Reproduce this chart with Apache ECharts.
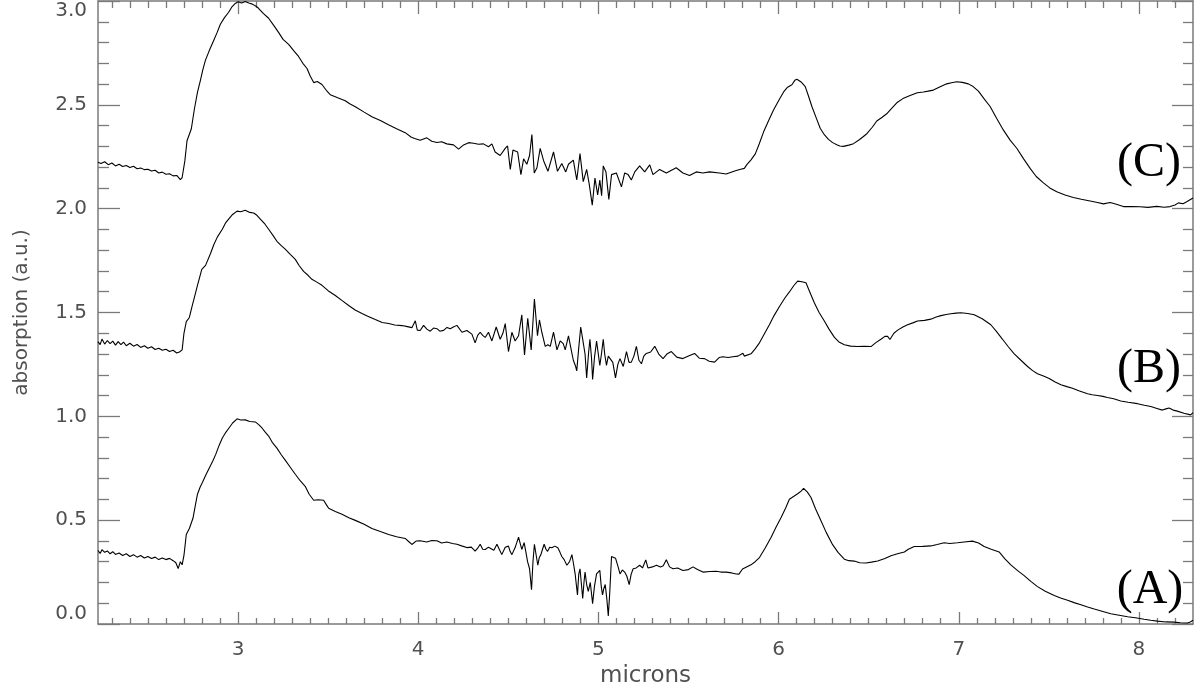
<!DOCTYPE html>
<html><head><meta charset="utf-8">
<script src="https://cdn.jsdelivr.net/npm/echarts@6.0.0/dist/echarts.min.js"></script>
<style>html,body{margin:0;padding:0;background:#fff}#c{width:1200px;height:687px}</style>
</head><body><div id="c"></div>
<script>
// Curve (C), top spectrum: [microns, absorption]
const curveC = [
[2.223,2.224],[2.24,2.218],[2.26,2.226],[2.28,2.212],[2.30,2.220],[2.32,2.206],[2.34,2.214],[2.36,2.203],[2.38,2.208],[2.40,2.198],
[2.42,2.204],[2.44,2.192],[2.46,2.196],[2.48,2.188],[2.50,2.190],[2.52,2.181],[2.54,2.185],[2.56,2.172],[2.58,2.176],[2.60,2.166],
[2.62,2.168],[2.64,2.158],[2.66,2.160],[2.68,2.140],[2.69,2.150],[2.705,2.23],[2.717,2.327],[2.741,2.385],[2.758,2.48],[2.775,2.56],
[2.791,2.617],[2.805,2.67],[2.819,2.714],[2.84,2.76],[2.865,2.81],[2.885,2.85],[2.902,2.888],[2.925,2.92],[2.948,2.946],[2.965,2.97],
[2.985,2.988],[3.0,2.996],[3.02,2.99],[3.04,2.998],[3.06,2.99],[3.08,2.985],[3.10,2.975],[3.114,2.965],[3.14,2.94],[3.17,2.917],
[3.2,2.88],[3.225,2.849],[3.25,2.815],[3.281,2.791],[3.31,2.76],[3.336,2.733],[3.36,2.70],[3.383,2.675],[3.40,2.64],[3.42,2.607],
[3.44,2.612],[3.466,2.598],[3.49,2.57],[3.512,2.549],[3.55,2.535],[3.595,2.52],[3.62,2.505],[3.651,2.491],[3.70,2.465],[3.743,2.443],
[3.79,2.425],[3.835,2.404],[3.88,2.385],[3.928,2.366],[3.96,2.345],[3.98,2.338],[4.011,2.329],[4.048,2.341],[4.075,2.325],[4.104,2.319],
[4.13,2.322],[4.159,2.312],[4.196,2.307],[4.224,2.287],[4.252,2.307],[4.28,2.318],[4.307,2.315],[4.335,2.31],[4.362,2.312],[4.39,2.298],
[4.409,2.312],[4.427,2.273],[4.455,2.256],[4.483,2.29],[4.496,2.302],[4.511,2.189],[4.526,2.282],[4.552,2.273],[4.57,2.164],[4.585,2.24],
[4.603,2.214],[4.618,2.256],[4.631,2.357],[4.644,2.172],[4.659,2.197],[4.677,2.29],[4.696,2.231],[4.72,2.18],[4.751,2.273],[4.773,2.18],
[4.797,2.217],[4.819,2.177],[4.834,2.214],[4.861,2.234],[4.88,2.138],[4.898,2.265],[4.916,2.13],[4.935,2.189],[4.95,2.113],[4.966,2.017],
[4.981,2.147],[4.996,2.066],[5.008,2.138],[5.018,2.062],[5.027,2.206],[5.042,2.177],[5.058,2.045],[5.073,2.164],[5.10,2.172],[5.128,2.105],
[5.146,2.172],[5.165,2.164],[5.183,2.138],[5.202,2.177],[5.229,2.206],[5.257,2.177],[5.285,2.211],[5.303,2.164],[5.34,2.189],[5.377,2.172],
[5.432,2.197],[5.469,2.172],[5.506,2.16],[5.543,2.177],[5.58,2.172],[5.617,2.177],[5.672,2.172],[5.709,2.167],[5.765,2.184],[5.79,2.19],
[5.81,2.194],[5.824,2.212],[5.847,2.235],[5.871,2.264],[5.894,2.315],[5.917,2.37],[5.945,2.425],[5.972,2.475],[6.0,2.52],[6.028,2.562],
[6.05,2.585],[6.074,2.597],[6.09,2.618],[6.102,2.623],[6.125,2.61],[6.148,2.588],[6.165,2.545],[6.185,2.492],[6.21,2.435],[6.231,2.387],
[6.255,2.355],[6.277,2.334],[6.30,2.318],[6.323,2.308],[6.34,2.302],[6.36,2.3],[6.39,2.306],[6.416,2.313],[6.45,2.333],[6.49,2.361],
[6.52,2.392],[6.545,2.422],[6.575,2.44],[6.60,2.457],[6.63,2.485],[6.656,2.51],[6.69,2.53],[6.73,2.545],[6.77,2.558],[6.804,2.562],
[6.83,2.566],[6.859,2.571],[6.9,2.588],[6.933,2.601],[6.96,2.606],[6.989,2.611],[7.02,2.608],[7.053,2.601],[7.08,2.588],[7.109,2.566],
[7.14,2.53],[7.174,2.492],[7.21,2.435],[7.248,2.378],[7.285,2.33],[7.322,2.291],[7.36,2.24],[7.396,2.194],[7.43,2.155],[7.47,2.124],
[7.505,2.1],[7.544,2.081],[7.59,2.066],[7.636,2.054],[7.68,2.045],[7.729,2.037],[7.77,2.03],[7.803,2.023],[7.84,2.03],[7.87,2.022],
[7.914,2.01],[7.96,2.01],[8.006,2.009],[8.05,2.006],[8.099,2.011],[8.14,2.007],[8.173,2.01],[8.2,2.018],[8.219,2.028],[8.245,2.024],
[8.265,2.033],[8.30,2.051]
];
// Curve (B), middle spectrum
const curveB = [
[2.223,1.360],[2.235,1.345],[2.245,1.372],[2.26,1.348],[2.275,1.365],[2.29,1.35],[2.305,1.362],[2.32,1.343],[2.335,1.36],[2.35,1.345],
[2.365,1.357],[2.38,1.34],[2.40,1.352],[2.42,1.338],[2.44,1.346],[2.46,1.332],[2.48,1.34],[2.50,1.328],[2.52,1.335],[2.54,1.322],
[2.56,1.328],[2.58,1.318],[2.60,1.323],[2.62,1.312],[2.64,1.318],[2.66,1.305],[2.675,1.31],[2.69,1.32],[2.70,1.40],[2.713,1.456],
[2.73,1.476],[2.745,1.53],[2.758,1.573],[2.775,1.631],[2.799,1.708],[2.82,1.727],[2.848,1.785],[2.865,1.825],[2.885,1.863],[2.913,1.901],
[2.93,1.93],[2.948,1.95],[2.97,1.972],[2.995,1.988],[3.015,1.985],[3.04,1.992],[3.065,1.982],[3.087,1.979],[3.105,1.968],[3.124,1.95],
[3.15,1.925],[3.17,1.901],[3.195,1.87],[3.216,1.843],[3.24,1.822],[3.262,1.805],[3.29,1.78],[3.318,1.756],[3.34,1.725],[3.364,1.698],
[3.39,1.678],[3.41,1.66],[3.44,1.645],[3.466,1.631],[3.50,1.605],[3.54,1.582],[3.58,1.556],[3.614,1.534],[3.65,1.512],[3.688,1.495],
[3.72,1.482],[3.762,1.466],[3.80,1.452],[3.836,1.447],[3.87,1.44],[3.91,1.437],[3.94,1.432],[3.965,1.427],[3.984,1.46],[3.995,1.415],
[4.011,1.413],[4.03,1.438],[4.048,1.42],[4.067,1.41],[4.085,1.425],[4.104,1.422],[4.12,1.41],[4.141,1.414],[4.16,1.428],[4.178,1.422],
[4.195,1.43],[4.215,1.438],[4.243,1.405],[4.27,1.413],[4.298,1.396],[4.316,1.354],[4.33,1.39],[4.344,1.405],[4.358,1.39],[4.372,1.38],
[4.39,1.405],[4.409,1.363],[4.433,1.43],[4.455,1.371],[4.47,1.40],[4.483,1.447],[4.501,1.312],[4.52,1.405],[4.538,1.363],[4.557,1.388],
[4.575,1.489],[4.59,1.295],[4.608,1.472],[4.627,1.32],[4.645,1.565],[4.662,1.388],[4.673,1.464],[4.686,1.405],[4.705,1.337],[4.72,1.345],
[4.733,1.337],[4.751,1.405],[4.77,1.32],[4.788,1.363],[4.805,1.35],[4.816,1.32],[4.834,1.388],[4.847,1.33],[4.861,1.27],[4.872,1.245],
[4.88,1.219],[4.89,1.32],[4.902,1.43],[4.915,1.36],[4.926,1.30],[4.935,1.185],[4.945,1.30],[4.953,1.371],[4.962,1.28],[4.968,1.177],
[4.978,1.28],[4.99,1.363],[5.008,1.245],[5.017,1.30],[5.027,1.371],[5.035,1.30],[5.045,1.245],[5.055,1.29],[5.064,1.287],[5.08,1.26],
[5.095,1.185],[5.108,1.25],[5.12,1.278],[5.138,1.24],[5.156,1.312],[5.17,1.26],[5.183,1.261],[5.197,1.29],[5.211,1.337],[5.225,1.27],
[5.239,1.253],[5.252,1.29],[5.266,1.303],[5.29,1.31],[5.313,1.337],[5.335,1.30],[5.359,1.278],[5.38,1.30],[5.405,1.312],[5.435,1.285],
[5.469,1.278],[5.50,1.29],[5.534,1.303],[5.56,1.28],[5.589,1.278],[5.615,1.265],[5.645,1.261],[5.67,1.283],[5.691,1.287],[5.72,1.283],
[5.746,1.287],[5.775,1.29],[5.802,1.304],[5.81,1.29],[5.847,1.301],[5.87,1.325],[5.894,1.354],[5.92,1.395],[5.949,1.441],[5.975,1.485],
[6.005,1.529],[6.035,1.57],[6.06,1.599],[6.085,1.63],[6.106,1.651],[6.13,1.648],[6.152,1.643],[6.175,1.595],[6.199,1.546],[6.225,1.50],
[6.254,1.459],[6.28,1.42],[6.31,1.38],[6.335,1.358],[6.365,1.345],[6.40,1.338],[6.439,1.336],[6.475,1.337],[6.513,1.336],[6.54,1.355],
[6.568,1.371],[6.59,1.385],[6.605,1.385],[6.618,1.37],[6.64,1.40],[6.661,1.415],[6.69,1.43],[6.716,1.441],[6.745,1.45],[6.771,1.459],
[6.81,1.462],[6.845,1.468],[6.875,1.478],[6.901,1.485],[6.93,1.49],[6.956,1.494],[6.985,1.497],[7.012,1.499],[7.05,1.495],[7.086,1.489],
[7.13,1.47],[7.178,1.441],[7.21,1.408],[7.243,1.371],[7.275,1.335],[7.308,1.301],[7.345,1.27],[7.382,1.24],[7.41,1.22],[7.437,1.205],
[7.47,1.194],[7.502,1.182],[7.535,1.165],[7.567,1.152],[7.60,1.143],[7.631,1.135],[7.67,1.122],[7.715,1.109],[7.74,1.104],[7.77,1.10],
[7.80,1.096],[7.825,1.091],[7.86,1.085],[7.899,1.074],[7.94,1.068],[7.992,1.061],[8.03,1.053],[8.066,1.047],[8.10,1.038],[8.13,1.03],
[8.15,1.036],[8.167,1.04],[8.19,1.03],[8.213,1.025],[8.25,1.015],[8.287,1.007],[8.30,1.018]
];
// Curve (A), bottom spectrum
const curveA = [
[2.223,0.354],[2.235,0.34],[2.245,0.358],[2.26,0.345],[2.275,0.352],[2.29,0.338],[2.305,0.348],[2.32,0.335],[2.34,0.342],[2.36,0.33],
[2.38,0.338],[2.40,0.325],[2.42,0.334],[2.44,0.322],[2.46,0.33],[2.48,0.318],[2.50,0.325],[2.52,0.315],[2.54,0.322],[2.56,0.31],
[2.58,0.318],[2.60,0.31],[2.62,0.316],[2.64,0.305],[2.655,0.295],[2.668,0.267],[2.68,0.30],[2.69,0.285],[2.70,0.33],[2.713,0.431],
[2.73,0.46],[2.75,0.509],[2.763,0.57],[2.775,0.625],[2.79,0.66],[2.803,0.683],[2.82,0.715],[2.84,0.75],[2.86,0.785],[2.877,0.818],
[2.895,0.86],[2.913,0.896],[2.93,0.92],[2.95,0.944],[2.97,0.968],[2.995,0.988],[3.015,0.982],[3.04,0.983],[3.065,0.975],[3.096,0.973],
[3.115,0.96],[3.133,0.944],[3.15,0.925],[3.17,0.905],[3.19,0.875],[3.216,0.847],[3.24,0.815],[3.262,0.789],[3.29,0.755],[3.318,0.721],
[3.345,0.69],[3.373,0.663],[3.395,0.625],[3.42,0.596],[3.445,0.598],[3.475,0.596],[3.49,0.575],[3.503,0.557],[3.54,0.542],[3.577,0.528],
[3.615,0.512],[3.651,0.499],[3.70,0.48],[3.743,0.46],[3.79,0.445],[3.836,0.431],[3.88,0.42],[3.928,0.412],[3.95,0.395],[3.965,0.383],
[3.99,0.40],[4.011,0.401],[4.048,0.395],[4.075,0.402],[4.104,0.401],[4.13,0.39],[4.159,0.395],[4.19,0.388],[4.215,0.384],[4.245,0.375],
[4.27,0.368],[4.295,0.37],[4.316,0.351],[4.33,0.365],[4.344,0.384],[4.358,0.36],[4.372,0.359],[4.39,0.37],[4.40,0.368],[4.42,0.355],
[4.437,0.384],[4.45,0.36],[4.464,0.334],[4.483,0.37],[4.501,0.375],[4.51,0.35],[4.52,0.334],[4.538,0.368],[4.557,0.418],[4.567,0.385],
[4.575,0.359],[4.588,0.392],[4.597,0.35],[4.607,0.30],[4.618,0.266],[4.629,0.165],[4.637,0.30],[4.645,0.384],[4.655,0.33],[4.664,0.283],
[4.672,0.32],[4.681,0.334],[4.69,0.36],[4.699,0.384],[4.709,0.36],[4.718,0.35],[4.73,0.37],[4.742,0.367],[4.758,0.375],[4.775,0.367],
[4.787,0.345],[4.797,0.325],[4.81,0.31],[4.825,0.283],[4.84,0.30],[4.853,0.334],[4.862,0.29],[4.871,0.241],[4.884,0.14],[4.891,0.24],
[4.898,0.266],[4.906,0.19],[4.913,0.123],[4.92,0.20],[4.926,0.25],[4.935,0.19],[4.944,0.157],[4.955,0.20],[4.968,0.098],[4.978,0.18],
[4.99,0.241],[5.008,0.258],[5.016,0.18],[5.023,0.140],[5.03,0.17],[5.038,0.19],[5.047,0.12],[5.055,0.039],[5.063,0.15],[5.073,0.325],
[5.083,0.33],[5.095,0.317],[5.108,0.28],[5.12,0.241],[5.133,0.26],[5.146,0.25],[5.158,0.23],[5.171,0.19],[5.182,0.24],[5.193,0.266],
[5.21,0.27],[5.229,0.283],[5.245,0.27],[5.263,0.309],[5.275,0.27],[5.285,0.266],[5.30,0.275],[5.322,0.283],[5.345,0.275],[5.36,0.28],
[5.377,0.309],[5.395,0.275],[5.414,0.266],[5.44,0.27],[5.469,0.258],[5.50,0.262],[5.525,0.275],[5.55,0.262],[5.58,0.25],[5.62,0.253],
[5.654,0.254],[5.68,0.25],[5.709,0.25],[5.74,0.246],[5.765,0.241],[5.78,0.24],[5.80,0.265],[5.81,0.27],[5.847,0.285],[5.87,0.30],
[5.894,0.32],[5.925,0.365],[5.958,0.417],[5.985,0.465],[6.014,0.513],[6.04,0.56],[6.06,0.601],[6.085,0.615],[6.106,0.627],[6.125,0.64],
[6.139,0.653],[6.16,0.635],[6.18,0.609],[6.205,0.555],[6.236,0.496],[6.265,0.44],[6.30,0.382],[6.33,0.345],[6.365,0.312],[6.39,0.305],
[6.42,0.303],[6.45,0.295],[6.485,0.294],[6.515,0.298],[6.55,0.303],[6.59,0.315],[6.624,0.329],[6.66,0.338],[6.698,0.347],[6.72,0.36],
[6.753,0.373],[6.80,0.374],[6.845,0.376],[6.88,0.383],[6.919,0.391],[6.95,0.388],[6.993,0.391],[7.03,0.395],[7.076,0.399],[7.11,0.39],
[7.141,0.373],[7.18,0.36],[7.224,0.347],[7.255,0.315],[7.289,0.285],[7.325,0.258],[7.363,0.233],[7.40,0.205],[7.437,0.18],[7.48,0.158],
[7.53,0.137],[7.565,0.125],[7.604,0.114],[7.64,0.103],[7.678,0.093],[7.715,0.082],[7.752,0.072],[7.80,0.06],[7.844,0.049],[7.89,0.042],
[7.937,0.035],[7.98,0.03],[8.029,0.023],[8.065,0.018],[8.103,0.014],[8.15,0.01],[8.195,0.009],[8.23,0.006],[8.269,0.005],[8.285,0.01],
[8.30,0.018]
];
const xMajorTicks = [3, 4, 5, 6, 7, 8];
const xMinorTicks = [];
for (let i = 23; i <= 82; i++) { if (i % 10 !== 0) xMinorTicks.push(i / 10); }
const curveLabels = ['(C)', '(B)', '(A)'];
const xName = 'microns';
const yName = 'absorption (a.u.)';

const X_MIN = 2.223, X_MAX = 8.3, Y_MIN = 0, Y_MAX = 3;
const AX = '#7a7a7a', TX = '#505050', FONT = 'DejaVu Sans';
const lineAx = { show: true, onZero: false, lineStyle: { color: AX, width: 1.5 } };
const tickStyle = { color: AX, width: 1.3 };

function xAxisDef(pos, ticks, len, withLine, withLabels) {
  const a = {
    type: 'value', position: pos, min: X_MIN, max: X_MAX,
    axisLine: withLine ? lineAx : { show: false, onZero: false },
    axisTick: { show: true, inside: true, length: len, customValues: ticks, lineStyle: tickStyle },
    axisLabel: { show: false },
    splitLine: { show: false }
  };
  if (withLabels) {
    a.axisLabel = { show: true, customValues: xMajorTicks, margin: 16, fontSize: 20, color: TX, fontFamily: FONT,
                    formatter: v => String(v) };
    a.name = xName; a.nameLocation = 'middle'; a.nameGap = 39;
    a.nameTextStyle = { fontSize: 23, color: TX, fontFamily: FONT };
  }
  return a;
}
function yAxisDef(pos, majLen, minLen, withLabels) {
  const a = {
    type: 'value', position: pos, min: Y_MIN, max: Y_MAX, interval: 0.5,
    axisLine: lineAx,
    axisTick: { show: true, inside: true, length: majLen, lineStyle: tickStyle },
    minorTick: { show: true, splitNumber: 5, length: minLen, lineStyle: tickStyle },
    axisLabel: { show: false },
    splitLine: { show: false }, minorSplitLine: { show: false }
  };
  if (withLabels) {
    a.axisLabel = { show: true, margin: 11, fontSize: 20, color: TX, fontFamily: FONT,
                    formatter: v => v.toFixed(1),
                    verticalAlignMinLabel: 'bottom', verticalAlignMaxLabel: 'top' };
    a.name = yName; a.nameLocation = 'middle'; a.nameGap = 66; a.nameRotate = 90;
    a.nameTextStyle = { fontSize: 20, color: TX, fontFamily: FONT };
  }
  return a;
}

const chart = echarts.init(document.getElementById('c'), null, { renderer: 'canvas' });
const lineSeries = (d) => ({ type: 'line', data: d, xAxisIndex: 0, yAxisIndex: 0, showSymbol: false, symbol: 'none',
  lineStyle: { color: '#000', width: 1.1 }, silent: true, animation: false, z: 3 });
chart.setOption({
  backgroundColor: '#fff',
  animation: false,
  grid: { left: 98, right: 7, top: 1, bottom: 63, containLabel: false, outerBoundsMode: 'none' },
  xAxis: [
    xAxisDef('bottom', xMajorTicks, 12, true, true),
    xAxisDef('bottom', xMinorTicks, 6, false, false),
    xAxisDef('top', xMajorTicks, 13, true, false),
    xAxisDef('top', xMinorTicks, 7, false, false)
  ],
  yAxis: [
    yAxisDef('left', 22, 11, true),
    yAxisDef('right', 21, 10, false)
  ],
  series: [lineSeries(curveC), lineSeries(curveB), lineSeries(curveA)],
  graphic: [
    { type: 'text', x: 1149, y: 163, style: { text: curveLabels[0], fontSize: 48, fontFamily: 'Liberation Serif', fill: '#000', align: 'center', verticalAlign: 'middle' } },
    { type: 'text', x: 1149, y: 369, style: { text: curveLabels[1], fontSize: 48, fontFamily: 'Liberation Serif', fill: '#000', align: 'center', verticalAlign: 'middle' } },
    { type: 'text', x: 1150, y: 590, style: { text: curveLabels[2], fontSize: 48, fontFamily: 'Liberation Serif', fill: '#000', align: 'center', verticalAlign: 'middle' } }
  ]
});
</script>
</body></html>
